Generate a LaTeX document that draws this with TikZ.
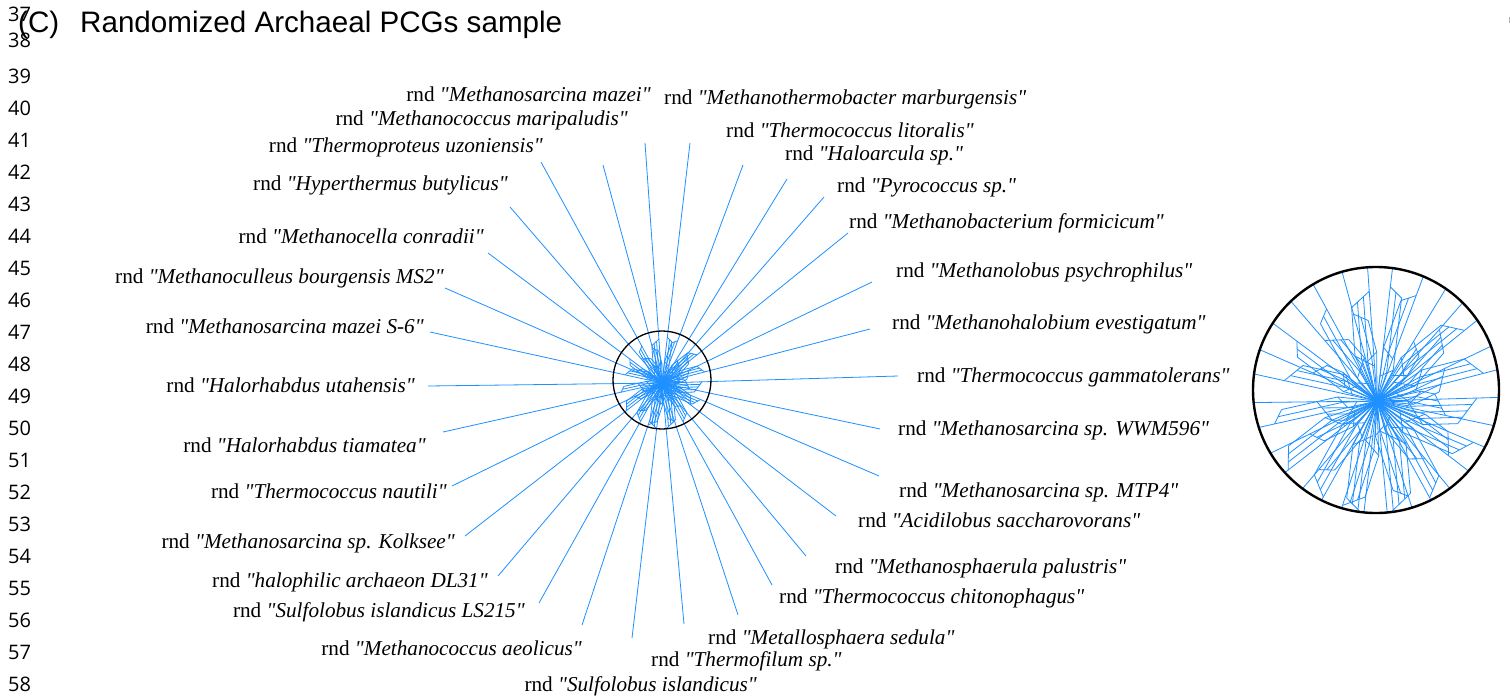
\documentclass[tikz,border=0pt]{standalone}
\usepackage{fontspec}
\newfontfamily\lblfont{Liberation Serif}
\newfontfamily\titlefont{Liberation Sans}
\newfontfamily\numfont{Open Sans}
\definecolor{netblue}{RGB}{30,144,255}
\tikzset{
  net/.style={draw=netblue, line width=0.8pt},
  lbl/.style={font=\lblfont\fontsize{21.2}{24}\selectfont, inner sep=0pt},
  lnum/.style={font=\numfont\fontsize{20}{22}\selectfont, inner sep=0pt, anchor=base west},
  ring/.style={draw=black, line width=1.3pt},
  bigring/.style={draw=black, line width=2.4pt},
}
\def\netcx{662}\def\netcy{383}
\newcommand{\drawnetwork}{%
\foreach \ex/\ey/\a/\r/\k/\d in {
898/376/12/40/5/2.5, 870/329/16/44/4/-2.5, 872/282/8/30/4/2.5, 848/233/14/45/4/-2.5,
824/197/10/38/4/2.5, 787/179/12/28/3/2.5, 743/165/18/45/3/-2.5, 690/143/10/46/3/2.5,
645/143/14/44/4/-2.5, 603/165/16/36/3/2.5, 541/162/8/42/3/-2.5, 510/207/12/32/4/2.5,
488/253/10/40/3/-2.5, 445/288/14/28/3/2.5, 430/332/10/38/4/2.5, 428/386/8/24/4/-2.5,
443/432/12/42/3/2.5, 452/486/10/30/3/-2.5, 465/536/16/45/4/2.5, 498/576/12/36/3/-2.5,
539/603/10/44/4/2.5, 582/625/16/44/4/-2.5, 632/638/14/46/4/2.5, 684/624/12/46/5/-2.5,
738/615/10/40/3/2.5, 772/585/12/44/4/-2.5, 806/556/8/30/3/2.5, 836/516/14/36/4/-2.5,
879/476/10/42/4/2.5, 880/429/12/28/4/-2.5}{%
  \pgfmathsetmacro{\ang}{atan2(\netcy-\ey,\ex-\netcx)}%
  \pgfmathsetmacro{\len}{veclen(\ex-\netcx,\ey-\netcy)}%
  \pgfmathtruncatemacro{\km}{\k-1}%
  \begin{scope}[rotate=\ang]
    \draw[net] (\r,0) -- (\len,0);
    \foreach \j in {0,...,\km}{%
      \pgfmathsetmacro{\yy}{\j*\d}%
      \pgfmathsetmacro{\xe}{\r-\j*2}%
      \pgfmathsetmacro{\xa}{\a+\j*1.5}%
      \draw[net] (0,0) -- (\xa,\yy) -- (\xe,\yy);
      \ifnum\j>0
        \pgfmathsetmacro{\yp}{(\j-1)*\d}%
        \pgfmathsetmacro{\xp}{\r-(\j-1)*2}%
        \pgfmathsetmacro{\xq}{\a+(\j-1)*1.5}%
        \draw[net] (\xe,\yy) -- (\xp,\yp);
        \draw[net] (\xa,\yy) -- (\xq,\yp);
      \fi
    }
  \end{scope}
}}
\begin{document}
\begin{tikzpicture}[x=1pt,y=-1pt]
\useasboundingbox (0,0) rectangle (1511,698);
\fill[white] (0,0) rectangle (1511,698);

% title and line numbers
\node[anchor=base west, font=\titlefont\fontsize{29.6}{31}\selectfont, inner sep=0pt] (tag) at (18,33) {(C)};
\node[anchor=base west, font=\titlefont\fontsize{29.6}{31}\selectfont, inner sep=0pt] (title) at (80,33) {Randomized Archaeal PCGs sample};
\node[lnum] (ln37) at (8,22) {37};
\node[lnum] (ln38) at (8,48) {38};
\foreach \n in {39,...,58}{
  \node[lnum] (ln\n) at (8,{84+(\n-39)*31.95}) {\n};
}
\draw[gray!60, line width=1pt] (1509.5,17) -- (1509.5,23);

% main network
\begin{scope}[shift={(\netcx,\netcy)}]
  \drawnetwork
\end{scope}
\draw[ring] (662,380) circle (49);

% inset (magnified view of the circled region)
\begin{scope}
  \clip (1376,390) circle (123);
  \begin{scope}[shift={(1377,401)}, scale=2.5]
    \drawnetwork
  \end{scope}
\end{scope}
\draw[bigring] (1376,390) circle (123);

% labels, left side (right aligned)
\node[lbl, anchor=base east] (l1) at (651,102) {rnd \textit{"Methanosarcina mazei"}};
\node[lbl, anchor=base east] (l2) at (628,125) {rnd \textit{"Methanococcus maripaludis"}};
\node[lbl, anchor=base east] (l3) at (543,152) {rnd \textit{"Thermoproteus uzoniensis"}};
\node[lbl, anchor=base east] (l4) at (508,190) {rnd \textit{"Hyperthermus butylicus"}};
\node[lbl, anchor=base east] (l5) at (484,243) {rnd \textit{"Methanocella conradii"}};
\node[lbl, anchor=base east] (l6) at (444,283) {rnd \textit{"Methanoculleus bourgensis MS2"}};
\node[lbl, anchor=base east] (l7) at (424,333) {rnd \textit{"Methanosarcina mazei S-6"}};
\node[lbl, anchor=base east] (l8) at (415,392) {rnd \textit{"Halorhabdus utahensis"}};
\node[lbl, anchor=base east] (l9) at (426,452) {rnd \textit{"Halorhabdus tiamatea"}};
\node[lbl, anchor=base east] (l10) at (447,498) {rnd \textit{"Thermococcus nautili"}};
\node[lbl, anchor=base east] (l11) at (455,548) {rnd \textit{"Methanosarcina sp. Kolksee"}};
\node[lbl, anchor=base east] (l12) at (488,587) {rnd \textit{"halophilic archaeon DL31"}};
\node[lbl, anchor=base east] (l13) at (525,617) {rnd \textit{"Sulfolobus islandicus LS215"}};
\node[lbl, anchor=base east] (l14) at (582,655) {rnd \textit{"Methanococcus aeolicus"}};
\node[lbl, anchor=base east] (l15) at (757,691) {rnd \textit{"Sulfolobus islandicus"}};
% labels, right side (left aligned)
\node[lbl, anchor=base west] (l16) at (651,666) {rnd \textit{"Thermofilum sp."}};
\node[lbl, anchor=base west] (l17) at (708,644) {rnd \textit{"Metallosphaera sedula"}};
\node[lbl, anchor=base west] (l18) at (779,603) {rnd \textit{"Thermococcus chitonophagus"}};
\node[lbl, anchor=base west] (l19) at (835,573) {rnd \textit{"Methanosphaerula palustris"}};
\node[lbl, anchor=base west] (l20) at (858,527) {rnd \textit{"Acidilobus saccharovorans"}};
\node[lbl, anchor=base west] (l21) at (899,497) {rnd \textit{"Methanosarcina sp. MTP4"}};
\node[lbl, anchor=base west] (l22) at (898,435) {rnd \textit{"Methanosarcina sp. WWM596"}};
\node[lbl, anchor=base west] (l23) at (917,382) {rnd \textit{"Thermococcus gammatolerans"}};
\node[lbl, anchor=base west] (l24) at (892,329) {rnd \textit{"Methanohalobium evestigatum"}};
\node[lbl, anchor=base west] (l25) at (896,277) {rnd \textit{"Methanolobus psychrophilus"}};
\node[lbl, anchor=base west] (l26) at (849,228) {rnd \textit{"Methanobacterium formicicum"}};
\node[lbl, anchor=base west] (l27) at (837,192) {rnd \textit{"Pyrococcus sp."}};
\node[lbl, anchor=base west] (l28) at (785,160) {rnd \textit{"Haloarcula sp."}};
\node[lbl, anchor=base west] (l29) at (726,137) {rnd \textit{"Thermococcus litoralis"}};
\node[lbl, anchor=base west] (l30) at (664,105) {rnd \textit{"Methanothermobacter marburgensis"}};
\end{tikzpicture}
\end{document}
